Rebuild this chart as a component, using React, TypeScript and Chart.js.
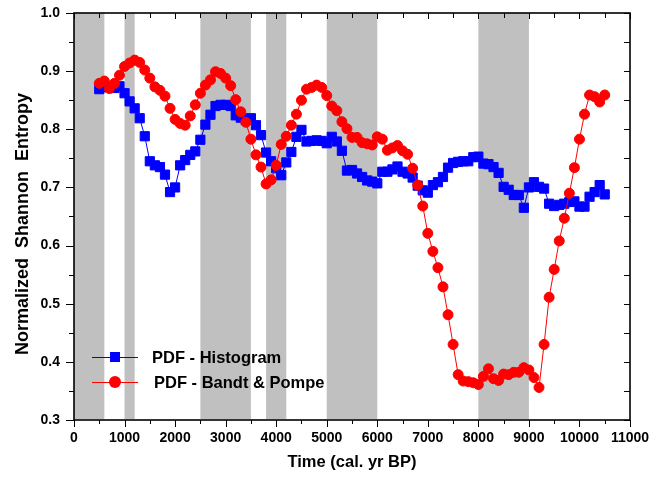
import React, { useEffect, useRef } from "react";
import { Chart, registerables } from "chart.js";

Chart.register(...registerables);

// ---- data ----
const years = [
  500, 600, 700, 800, 900, 1000, 1100, 1200, 1300, 1400,
  1500, 1600, 1700, 1800, 1900, 2000, 2100, 2200, 2300, 2400,
  2500, 2600, 2700, 2800, 2900, 3000, 3100, 3200, 3300, 3400,
  3500, 3600, 3700, 3800, 3900, 4000, 4100, 4200, 4300, 4400,
  4500, 4600, 4700, 4800, 4900, 5000, 5100, 5200, 5300, 5400,
  5500, 5600, 5700, 5800, 5900, 6000, 6100, 6200, 6300, 6400,
  6500, 6600, 6700, 6800, 6900, 7000, 7100, 7200, 7300, 7400,
  7500, 7600, 7700, 7800, 7900, 8000, 8100, 8200, 8300, 8400,
  8500, 8600, 8700, 8800, 8900, 9000, 9100, 9200, 9300, 9400,
  9500, 9600, 9700, 9800, 9900, 10000, 10100, 10200, 10300, 10400,
  10500,
];

const histogram = [
  0.869, 0.873, 0.872, 0.871, 0.874, 0.862, 0.848, 0.836, 0.819, 0.788,
  0.745, 0.738, 0.735, 0.722, 0.692, 0.700, 0.738, 0.747, 0.756, 0.762,
  0.782, 0.808, 0.825, 0.840, 0.842, 0.842, 0.840, 0.824, 0.820, 0.816,
  0.819, 0.807, 0.790, 0.760, 0.745, 0.733, 0.721, 0.743, 0.761, 0.787,
  0.799, 0.779, 0.780, 0.781, 0.780, 0.776, 0.787, 0.779, 0.763, 0.729,
  0.730, 0.724, 0.718, 0.712, 0.710, 0.707, 0.727, 0.727, 0.731, 0.736,
  0.727, 0.724, 0.717, 0.703, 0.695, 0.691, 0.704, 0.709, 0.718, 0.734,
  0.742, 0.744, 0.745, 0.745, 0.752, 0.753, 0.741, 0.740, 0.735, 0.725,
  0.701, 0.696, 0.687, 0.687, 0.665, 0.700, 0.709, 0.701, 0.698, 0.672,
  0.668, 0.670, 0.672, 0.675, 0.676, 0.667, 0.667, 0.684, 0.692, 0.704,
  0.688,
];

const bandtPompe = [
  0.879, 0.883, 0.870, 0.879, 0.893, 0.908, 0.914, 0.919, 0.915, 0.902,
  0.888, 0.873, 0.867, 0.857, 0.836, 0.817, 0.810, 0.807, 0.823, 0.842,
  0.862, 0.876, 0.885, 0.899, 0.896, 0.888, 0.875, 0.851, 0.830, 0.812,
  0.783, 0.756, 0.735, 0.706, 0.713, 0.738, 0.774, 0.788, 0.807, 0.826,
  0.850, 0.869, 0.872, 0.876, 0.872, 0.858, 0.840, 0.832, 0.813, 0.801,
  0.786, 0.786, 0.777, 0.775, 0.773, 0.787, 0.783, 0.764, 0.768, 0.772,
  0.763, 0.757, 0.733, 0.704, 0.668, 0.621, 0.590, 0.562, 0.529, 0.481,
  0.430, 0.378, 0.367, 0.366, 0.364, 0.361, 0.375, 0.388, 0.371, 0.368,
  0.379, 0.378, 0.382, 0.382, 0.390, 0.386, 0.373, 0.356, 0.430, 0.511,
  0.559, 0.608, 0.647, 0.690, 0.734, 0.783, 0.826, 0.859, 0.856, 0.847,
  0.859,
];

const bandStart = [0, 1000, 2500, 3800, 5000, 8000];
const bandEnd = [600, 1200, 3500, 4200, 6000, 9000];

const seriesLabels = ["PDF - Histogram", "PDF - Bandt & Pompe"];
const xTitle = "Time (cal. yr BP)";
const yTitle = "Normalized  Shannon  Entropy   ";

const FONT = "'Liberation Sans', Arial, Helvetica, sans-serif";

const bandsPlugin = {
  id: "bands",
  beforeDatasetsDraw(chart: any) {
    const { ctx, chartArea, scales } = chart;
    const x = scales.x;
    ctx.save();
    ctx.fillStyle = "#c0c0c0";
    for (let i = 0; i < bandStart.length; i++) {
      const x0 = x.getPixelForValue(bandStart[i]);
      const x1 = x.getPixelForValue(bandEnd[i]);
      ctx.fillRect(x0, chartArea.top, x1 - x0, chartArea.bottom - chartArea.top - 1);
    }
    ctx.restore();
  },
};

const framePlugin = {
  id: "frame",
  afterDraw(chart: any) {
    const { ctx, chartArea, scales } = chart;
    const { left, right, top, bottom } = chartArea;
    const x = scales.x;
    const y = scales.y;
    ctx.save();
    ctx.strokeStyle = "#000";
    ctx.lineWidth = 1;
    ctx.beginPath();
    for (let v = 0; v <= 11000; v += 500) {
      const px = Math.round(x.getPixelForValue(v)) + 0.5;
      const major = v % 1000 === 0;
      ctx.moveTo(px, bottom);
      ctx.lineTo(px, bottom + (major ? 7 : 4));
      ctx.moveTo(px, top);
      ctx.lineTo(px, top + (major ? 6 : 5));
    }
    for (let k = 0; k <= 14; k++) {
      const v = 0.3 + k * 0.05;
      const py = Math.round(y.getPixelForValue(v)) + 0.5;
      const major = k % 2 === 0;
      ctx.moveTo(left, py);
      ctx.lineTo(left - (major ? 8 : 5), py);
      ctx.moveTo(right, py);
      ctx.lineTo(right - 6, py);
    }
    ctx.stroke();
    ctx.lineWidth = 1.6;
    ctx.strokeRect(left, top, right - left, bottom - top);
    ctx.restore();
  },
};

const legendPlugin = {
  id: "customLegend",
  afterDraw(chart: any) {
    const { ctx } = chart;
    const ds = chart.data.datasets;
    const rows = [
      { y: 357, textX: 152 },
      { y: 382, textX: 154 },
    ];
    ctx.save();
    ds.forEach((d: any, i: number) => {
      const r = rows[i];
      ctx.strokeStyle = d.borderColor;
      ctx.lineWidth = 1;
      ctx.beginPath();
      ctx.moveTo(92, r.y + 0.5);
      ctx.lineTo(138, r.y + 0.5);
      ctx.stroke();
      ctx.fillStyle = d.pointBackgroundColor;
      if (d.pointStyle === "rect") {
        ctx.fillRect(110, r.y - 5, 10, 10);
      } else {
        ctx.beginPath();
        ctx.arc(115, r.y, 6, 0, Math.PI * 2);
        ctx.fill();
      }
      ctx.fillStyle = "#000";
      ctx.font = `bold 16.5px ${FONT}`;
      ctx.textBaseline = "middle";
      ctx.textAlign = "left";
      ctx.fillText(d.label, r.textX, r.y + 1);
    });
    ctx.restore();
  },
};

const zeroPad = (s: any) => {
  s.paddingTop = 0;
  s.paddingBottom = 0;
  s.paddingLeft = 0;
  s.paddingRight = 0;
};

export default function App() {
  const ref = useRef<HTMLCanvasElement | null>(null);

  useEffect(() => {
    if (!ref.current) return;
    const chart = new Chart(ref.current, {
      type: "line",
      data: {
        datasets: [
          {
            label: seriesLabels[0],
            data: years.map((t, i) => ({ x: t, y: histogram[i] })),
            borderColor: "#0000ff",
            backgroundColor: "#0000ff",
            pointBackgroundColor: "#0000ff",
            pointBorderColor: "#0000ff",
            pointStyle: "rect",
            pointRadius: 6.5,
            pointBorderWidth: 1,
            borderWidth: 1,
            tension: 0,
            order: 2,
          },
          {
            label: seriesLabels[1],
            data: years.map((t, i) => ({ x: t, y: bandtPompe[i] })),
            borderColor: "#ff0000",
            backgroundColor: "#ff0000",
            pointBackgroundColor: "#ff0000",
            pointBorderColor: "#ff0000",
            pointStyle: "circle",
            pointRadius: 5,
            pointBorderWidth: 1,
            borderWidth: 1,
            tension: 0,
            order: 1,
          },
        ],
      },
      options: {
        responsive: false,
        animation: false,
        devicePixelRatio: 1,
        layout: { padding: { top: 13, right: 22, left: 0, bottom: 0 } },
        plugins: {
          legend: { display: false },
          tooltip: { enabled: false },
        },
        scales: {
          x: {
            type: "linear",
            min: 0,
            max: 11000,
            afterFit: (s: any) => {
              s.height = 58;
              zeroPad(s);
            },
            grid: { display: false, drawTicks: false },
            border: { display: false },
            ticks: {
              stepSize: 1000,
              autoSkip: false,
              maxRotation: 0,
              padding: 10,
              color: "#000",
              font: { family: FONT, size: 14, weight: "bold" },
              callback: (v: any) => String(v),
            },
            title: {
              display: true,
              text: xTitle,
              color: "#000",
              padding: { top: 0, bottom: 6 },
              font: { family: FONT, size: 16.5, weight: "bold" },
            },
          },
          y: {
            type: "linear",
            min: 0.3,
            max: 1.0,
            afterFit: (s: any) => {
              s.width = 74;
              zeroPad(s);
            },
            grid: { display: false, drawTicks: false },
            border: { display: false },
            ticks: {
              stepSize: 0.1,
              autoSkip: false,
              padding: 14,
              color: "#000",
              font: { family: FONT, size: 14, weight: "bold" },
              callback: (v: any) => Number(v).toFixed(1),
            },
            title: {
              display: true,
              text: yTitle,
              color: "#000",
              padding: { top: 12, bottom: 0 },
              font: { family: FONT, size: 18, weight: "bold" },
            },
          },
        },
      },
      plugins: [bandsPlugin, framePlugin, legendPlugin],
    } as any);
    return () => chart.destroy();
  }, []);

  return (
    <div style={{ position: "absolute", left: 0, top: 0, width: 652, height: 478, background: "#fff" }}>
      <canvas ref={ref} width={652} height={478} style={{ display: "block" }} />
    </div>
  );
}
